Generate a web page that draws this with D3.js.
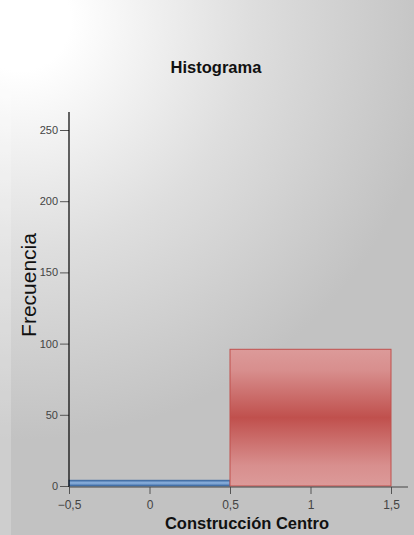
<!DOCTYPE html>
<html>
<head>
<meta charset="utf-8">
<script src="https://cdn.jsdelivr.net/npm/d3@7"></script>
<style>
  html, body { margin: 0; padding: 0; background: #fff; }
  svg { display: block; }
  text { font-family: "Liberation Sans", Arial, sans-serif; }
</style>
</head>
<body>
<svg id="chart" width="414" height="535"></svg>
<script>
// Histogram bins (lower edge, upper edge) and counts
const binStarts = [-0.5, 0.5];
const binEnds = [0.5, 1.5];
const counts = [4, 96];
const binColors = ["blue", "red"];

const xTicks = [-0.5, 0, 0.5, 1, 1.5];
const yTicks = [0, 50, 100, 150, 200, 250];

const title = "Histograma";
const xLabel = "Construcción Centro";
const yLabel = "Frecuencia";

const W = 414, H = 535;
const svg = d3.select("#chart");
const defs = svg.append("defs");

// Background: light in the top-left corner fading to grey
const bg = defs.append("radialGradient").attr("id", "bg")
  .attr("gradientUnits", "userSpaceOnUse")
  .attr("cx", 20).attr("cy", 20).attr("r", 420);
bg.append("stop").attr("offset", "0.12").attr("stop-color", "#ffffff");
bg.append("stop").attr("offset", "0.55").attr("stop-color", "#dedede");
bg.append("stop").attr("offset", "1").attr("stop-color", "#c2c2c2");
svg.append("rect").attr("width", W).attr("height", H).attr("fill", "url(#bg)");
svg.append("rect").attr("x", 0).attr("y", 0).attr("width", 11).attr("height", H)
  .attr("fill", "#ffffff").attr("opacity", 0.2);

// Bar fills: lighter at top and bottom, saturated in the middle
const red = defs.append("linearGradient").attr("id", "grad-red")
  .attr("x1", 0).attr("y1", 0).attr("x2", 0).attr("y2", 1);
[["0", "#dc9a99"], ["0.15", "#d88f8e"], ["0.5", "#c0504d"], ["0.85", "#d88f8e"], ["1", "#dc9a99"]]
  .forEach(([o, c]) => red.append("stop").attr("offset", o).attr("stop-color", c));
const blue = defs.append("linearGradient").attr("id", "grad-blue")
  .attr("x1", 0).attr("y1", 0).attr("x2", 0).attr("y2", 1);
[["0", "#3d6aa3"], ["0.45", "#8fb4e0"], ["1", "#3d6aa3"]]
  .forEach(([o, c]) => blue.append("stop").attr("offset", o).attr("stop-color", c));

const x = d3.scaleLinear().domain([-0.5, 1.5]).range([69, 391]);
const y = d3.scaleLinear().domain([0, 250]).range([486, 130]);

const fmt = d => d3.format("")(d).replace(".", ",");

// Bars
const bins = binStarts.map((s, i) => ({ s, e: binEnds[i], c: counts[i], col: binColors[i] }));
svg.append("g").selectAll("rect").data(bins).join("rect")
  .attr("x", d => x(d.s))
  .attr("y", d => y(d.c))
  .attr("width", d => x(d.e) - x(d.s))
  .attr("height", d => y(0) - y(d.c))
  .attr("fill", d => d.col === "blue" ? "url(#grad-blue)" : "url(#grad-red)")
  .attr("stroke", d => d.col === "blue" ? "#3d6aa3" : "#c0504d")
  .attr("stroke-width", 1);

// Y axis
const yAxis = d3.axisLeft(y).tickValues(yTicks).tickSize(9).tickPadding(2).tickFormat(fmt);
const gy = svg.append("g").attr("transform", "translate(69,0)").call(yAxis);
gy.select(".domain").remove();
gy.append("line").attr("x1", 0).attr("x2", 0).attr("y1", 112).attr("y2", 487)
  .attr("stroke", "#000").attr("stroke-width", 1.2);
gy.selectAll(".tick line").attr("stroke", "#555");
gy.selectAll(".tick text").attr("fill", "#444").attr("font-size", 11)
  .style("font-family", '"Liberation Sans", Arial, sans-serif');

// X axis
const xAxis = d3.axisBottom(x).tickValues(xTicks).tickSize(7).tickPadding(6).tickFormat(fmt);
const gx = svg.append("g").attr("transform", "translate(0,487)").call(xAxis);
gx.select(".domain").remove();
gx.append("line").attr("x1", 69).attr("x2", 408).attr("y1", 0).attr("y2", 0)
  .attr("stroke", "#444").attr("stroke-width", 1.2);
gx.selectAll(".tick line").attr("stroke", "#555");
gx.selectAll(".tick text").attr("fill", "#444").attr("font-size", 12)
  .style("font-family", '"Liberation Sans", Arial, sans-serif');

// Titles
svg.append("text").attr("x", 216).attr("y", 73).attr("text-anchor", "middle")
  .attr("font-size", 16.5).attr("font-weight", "bold").attr("fill", "#111").text(title);
svg.append("text").attr("x", 247).attr("y", 529).attr("text-anchor", "middle")
  .attr("font-size", 16.5).attr("font-weight", "bold").attr("fill", "#111").text(xLabel);
svg.append("text").attr("transform", "translate(36,285) rotate(-90)").attr("text-anchor", "middle")
  .attr("font-size", 21).attr("fill", "#111").text(yLabel);
</script>
</body>
</html>
